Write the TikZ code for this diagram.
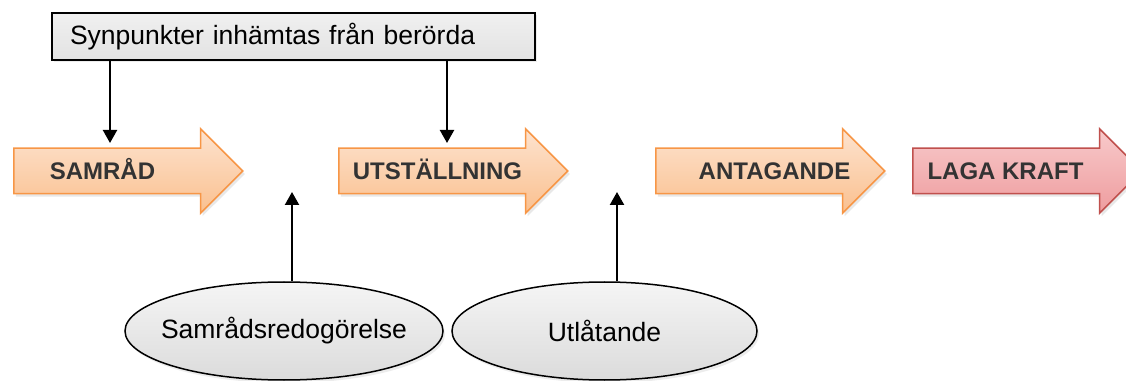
\documentclass[tikz,border=0pt]{standalone}
\usepackage{fontspec}
\setmainfont{Liberation Sans}
\usetikzlibrary{shapes.arrows,shapes.geometric,arrows.meta,shadows}
\definecolor{stageline}{HTML}{F79646}
\definecolor{stagetop}{HTML}{FDE3CF}
\definecolor{stagebottom}{HTML}{FAC08F}
\definecolor{lawline}{HTML}{C0504D}
\definecolor{lawtop}{HTML}{F8CACB}
\definecolor{lawbottom}{HTML}{EE9C9E}
\definecolor{labelgray}{HTML}{333333}
\tikzset{
  stagearrow/.style={single arrow, draw=stageline, line width=1.5pt,
    top color=stagetop, bottom color=stagebottom,
    inner sep=0pt, inner ysep=22pt, minimum height=229pt,
    single arrow head extend=19.5pt, single arrow tip angle=90,
    drop shadow={opacity=0.18, shadow xshift=2pt, shadow yshift=-3pt}},
  lawarrow/.style={stagearrow, draw=lawline, top color=lawtop, bottom color=lawbottom},
  stagelabel/.style={text=labelgray, font=\fontsize{24}{28}\selectfont\bfseries,
    inner sep=0pt, text height=17pt, text depth=0pt},
  infobox/.style={draw, line width=1.3pt, top color=gray!12, bottom color=gray!22,
    minimum width=483pt, minimum height=47pt, inner xsep=18pt, inner ysep=0pt,
    text width=447pt, align=left, font=\fontsize{26.5}{30}\selectfont,
    drop shadow={opacity=0.15, shadow xshift=2pt, shadow yshift=-2pt}},
  report/.style={ellipse, draw, line width=1.5pt, top color=gray!8, bottom color=gray!28,
    minimum height=98pt, inner xsep=-14pt, inner ysep=0pt, font=\fontsize{26.5}{30}\selectfont,
    drop shadow={opacity=0.15, shadow xshift=2pt, shadow yshift=-3pt}},
  flowarrow/.style={line width=2.2pt, -{Triangle[length=13pt,width=14pt]}}
}
\begin{document}
\begin{tikzpicture}[x=1pt,y=1pt]
\useasboundingbox (0,0) rectangle (1126,380);
% process stages
\node[stagearrow, anchor=tail] (samrad) at (13,209) {};
\node[stagearrow, anchor=tail] (utstallning) at (338,209) {};
\node[stagearrow, anchor=tail] (antagande) at (655,209) {};
\node[lawarrow, anchor=tail] (lagakraft) at (912,209) {};
\node[stagelabel] (samradtext) at (102.5,209) {SAMRÅD};
\node[stagelabel] (utstallningtext) at (437.5,209) {UTSTÄLLNING};
\node[stagelabel] (antagandetext) at (774.5,209) {ANTAGANDE};
\node[stagelabel] (lagakrafttext) at (1005.5,209) {LAGA KRAFT};
% input from top
\node[infobox] (synpunkter) at (293.5,343.5) {Synpunkter inhämtas från berörda};
\coordinate (samradin) at (110,237);
\coordinate (utstallningin) at (447,237);
\draw[flowarrow] (synpunkter.south -| samradin) -- (samradin);
\draw[flowarrow] (synpunkter.south -| utstallningin) -- (utstallningin);
% documents
\node[report, minimum width=318pt] (redogorelse) at (284,49) {Samrådsredogörelse};
\node[report, minimum width=305pt] (utlatande) at (604.5,49) {Utlåtande};
\coordinate (redogorelseout) at (292,188);
\coordinate (utlatandeout) at (617,188);
\draw[flowarrow] (redogorelse.north -| redogorelseout) -- (redogorelseout);
\draw[flowarrow] (utlatande.north -| utlatandeout) -- (utlatandeout);
\end{tikzpicture}
\end{document}
